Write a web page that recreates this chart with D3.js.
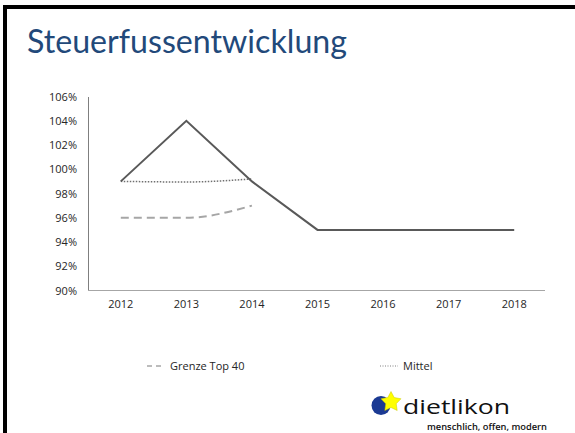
<!DOCTYPE html>
<html>
<head>
<meta charset="utf-8">
<script src="https://cdn.jsdelivr.net/npm/d3@7"></script>
<style>
  body { margin: 0; background: #fff; }
  text { font-family: "Open Sans", sans-serif; }
</style>
</head>
<body>
<div id="chart"></div>
<script>
// data
const years = ['2012', '2013', '2014', '2015', '2016', '2017', '2018'];
const steuerfuss = [99, 104, 99, 95, 95, 95, 95];
const grenzeTop40 = [96, 96, 97];
const mittel = [99, 98.95, 99.2];
const yTicks = [90, 92, 94, 96, 98, 100, 102, 104, 106];

const W = 575, H = 433;
const svg = d3.select('#chart').append('svg')
  .attr('width', W)
  .attr('height', H);

// slide frame (left + top black edge)
svg.append('rect').attr('x', 3).attr('y', 5).attr('width', W - 3).attr('height', 4).attr('fill', '#000');
svg.append('rect').attr('x', 3).attr('y', 5).attr('width', 4).attr('height', H - 5).attr('fill', '#000');

svg.append('text')
  .attr('x', 27)
  .attr('y', 53)
  .attr('fill', '#22497a')
  .style('font-family', 'Lato, sans-serif')
  .style('font-size', '32px')
  .attr('textLength', 320)
  .attr('lengthAdjust', 'spacingAndGlyphs')
  .text('Steuerfussentwicklung');

const x = d3.scaleBand().domain(years).range([88, 547]);
const y = d3.scaleLinear().domain([90, 106]).range([290.5, 96.5]);
const cx = function(d, i) { return x(years[i]) + x.bandwidth() / 2; };

// axes
const yAxis = svg.append('g')
  .attr('transform', 'translate(88,0)')
  .call(d3.axisLeft(y).tickValues(yTicks).tickSize(0).tickPadding(11)
    .tickFormat(function(d) { return d + '%'; }));
yAxis.select('.domain').attr('stroke', '#7f7f7f');
yAxis.selectAll('text').attr('fill', '#262626').style('font-size', '11px');

const xAxis = svg.append('g')
  .attr('transform', 'translate(0,290.5)')
  .call(d3.axisBottom(x).tickSize(0).tickPadding(10));
xAxis.select('.domain').attr('stroke', '#a6a6a6').attr('d', 'M88,0H545');
xAxis.selectAll('text').attr('fill', '#262626').style('font-size', '11px');

// lines
const straight = d3.line().x(cx).y(function(d) { return y(d); });
const smooth = d3.line().x(cx).y(function(d) { return y(d); }).curve(d3.curveMonotoneX);

svg.append('path').datum(grenzeTop40)
  .attr('d', smooth)
  .attr('fill', 'none')
  .attr('stroke', '#a6a6a6')
  .attr('stroke-width', 2)
  .attr('stroke-dasharray', '8,5');

svg.append('path').datum(mittel)
  .attr('d', smooth)
  .attr('fill', 'none')
  .attr('stroke', '#6f6f6f')
  .attr('stroke-width', 1.5)
  .attr('stroke-dasharray', '1.5,1.5');

svg.append('path').datum(steuerfuss)
  .attr('d', straight)
  .attr('fill', 'none')
  .attr('stroke', '#595959')
  .attr('stroke-width', 2);

// legend
const legend = svg.append('g').style('font-size', '11px');
legend.append('line').attr('x1', 147).attr('x2', 163).attr('y1', 366).attr('y2', 366)
  .attr('stroke', '#a6a6a6').attr('stroke-width', 1.5).attr('stroke-dasharray', '5,4');
legend.append('text').attr('x', 170).attr('y', 370).attr('fill', '#262626').text('Grenze Top 40');
legend.append('line').attr('x1', 380).attr('x2', 398).attr('y1', 366).attr('y2', 366)
  .attr('stroke', '#7f7f7f').attr('stroke-width', 1).attr('stroke-dasharray', '1,1.5');
legend.append('text').attr('x', 403).attr('y', 370).attr('fill', '#262626').text('Mittel');

// dietlikon logo
const logo = svg.append('g');
logo.append('circle').attr('cx', 381).attr('cy', 405.5).attr('r', 9.5).attr('fill', '#1b3a93');
const star = d3.range(10).map(function(i) {
  const a = -Math.PI / 2 + i * Math.PI / 5;
  const r = i % 2 === 0 ? 10.5 : 5.5;
  return [391 + r * Math.cos(a), 402 + r * Math.sin(a)];
});
logo.append('path').attr('d', d3.line()(star) + 'Z')
  .attr('fill', '#ffff00').attr('stroke', '#c9c900').attr('stroke-width', 0.5);
logo.append('text').attr('x', 403).attr('y', 414).attr('fill', '#111')
  .style('font-family', '"Open Sans", sans-serif').style('font-size', '20px')
  .attr('textLength', 107).attr('lengthAdjust', 'spacingAndGlyphs')
  .text('dietlikon');
logo.append('text').attr('x', 427).attr('y', 430).attr('fill', '#111')
  .style('font-size', '9px').style('font-weight', '600')
  .attr('textLength', 120).attr('lengthAdjust', 'spacingAndGlyphs')
  .text('menschlich, offen, modern');
</script>
</body>
</html>
